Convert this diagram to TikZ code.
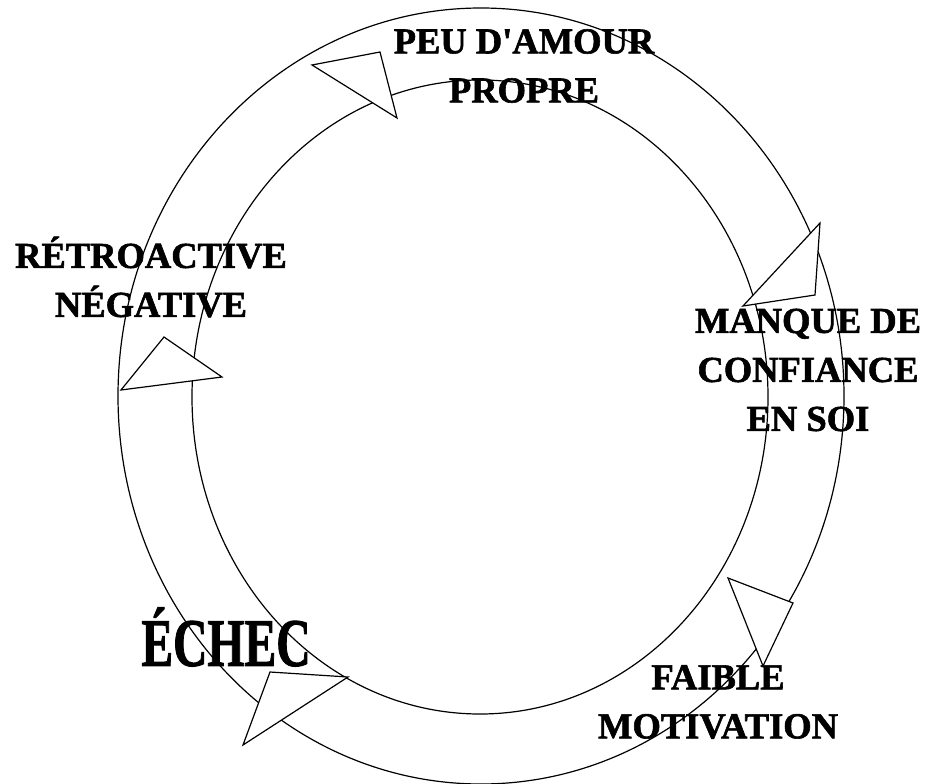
\documentclass[tikz,border=0pt]{standalone}
\usepackage{fontspec}
\setmainfont{Liberation Serif}[Ligatures=TeXOff]
\newfontfamily\cyclefont{Liberation Serif Bold}[Ligatures=TeXOff, FakeBold=1.6]
\usetikzlibrary{positioning}

\begin{document}
\begin{tikzpicture}[x=1pt, y=-1pt, line width=1.2pt,
  lbl/.style={font=\cyclefont\fontsize{36.5}{49}\selectfont, align=center, inner sep=0pt},
  tri/.style={draw, fill=white, line join=miter}]
  \useasboundingbox (0,0) rectangle (932,784);

  % labels round the cycle
  \node (peu) [lbl] at (524,66) {PEU D'AMOUR\\PROPRE};
  \node (manque) [lbl] at (808,370) {MANQUE DE\\CONFIANCE\\EN SOI};
  \node (faible) [lbl] at (718,702) {FAIBLE\\MOTIVATION};
  \node (echec) [lbl, font=\cyclefont\fontsize{68}{70}\selectfont] at (226,637) {\scalebox{0.7}[1]{ÉCHEC}};
  \node (retro) [lbl] at (151,277) {RÉTROACTIVE\\NÉGATIVE};

  % the ring
  \draw (481,396) ellipse [x radius=363pt, y radius=388pt];
  \draw (480,397) ellipse [x radius=288pt, y radius=317pt];

  % arrow heads along the ring
  \draw[tri] (312,65) -- (380,52) -- (397,118) -- cycle;
  \draw[tri] (820,223) -- (743,306) -- (815,295) -- cycle;
  \draw[tri] (728,578) -- (793,603) -- (763,666) -- cycle;
  \draw[tri] (270,672) -- (348,677) -- (243,745) -- cycle;
  \draw[tri] (164,337) -- (222,377) -- (121,390) -- cycle;
\end{tikzpicture}
\end{document}
